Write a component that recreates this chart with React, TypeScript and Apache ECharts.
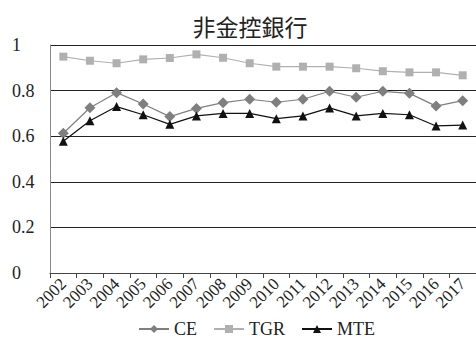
import React, { useEffect, useRef } from "react";
import * as echarts from "echarts";

const years = ["2002","2003","2004","2005","2006","2007","2008","2009","2010","2011","2012","2013","2014","2015","2016","2017"];
const ce = [0.613,0.725,0.791,0.741,0.686,0.722,0.747,0.762,0.749,0.762,0.797,0.771,0.797,0.788,0.732,0.756];
const tgr = [0.949,0.931,0.92,0.937,0.943,0.959,0.944,0.92,0.905,0.905,0.905,0.898,0.885,0.88,0.88,0.867];
const mte = [0.578,0.668,0.73,0.694,0.652,0.689,0.70,0.70,0.677,0.689,0.724,0.689,0.70,0.694,0.645,0.649];

const serif = "Liberation Serif";

export default function App() {
  const ref = useRef<HTMLDivElement>(null);
  useEffect(() => {
    const chart = echarts.init(ref.current!, null, { renderer: "svg" });
    chart.setOption({
      animation: false,
      title: {
        text: "非金控銀行",
        left: 245,
        textAlign: "center",
        top: 9,
        textStyle: { fontFamily: "Noto Sans CJK TC", fontSize: 23, fontWeight: "normal", color: "#222" },
      },
      grid: { left: 50, right: 0, top: 45, bottom: 76, containLabel: false },
      legend: {
        bottom: 6,
        left: 133,
        itemWidth: 30,
        itemHeight: 10,
        itemGap: 16,
        textStyle: { fontFamily: serif, fontSize: 18, color: "#222" },
        data: ["CE", "TGR", "MTE"],
      },
      xAxis: {
        type: "category",
        data: years,
        boundaryGap: true,
        axisLine: { lineStyle: { color: "#444", width: 1 } },
        axisTick: { show: true, length: 5, lineStyle: { color: "#444" } },
        axisLabel: { rotate: 45, fontFamily: serif, fontSize: 17, color: "#222", margin: 8, interval: 0 },
      },
      yAxis: {
        type: "value",
        min: 0,
        max: 1,
        interval: 0.2,
        axisLine: { show: true, lineStyle: { color: "#888" } },
        axisTick: { show: false },
        splitLine: { lineStyle: { color: "#222", width: 1 } },
        axisLabel: {
          fontFamily: serif,
          fontSize: 18,
          color: "#222",
          margin: 38,
          align: "left",
          formatter: (v: number) => (v === 0 ? "0" : v === 1 ? "1" : String(Math.round(v * 10) / 10)),
        },
      },
      series: [
        {
          name: "CE", type: "line", data: ce,
          symbol: "diamond", symbolSize: 11,
          lineStyle: { color: "#7f7f7f", width: 1.2 },
          itemStyle: { color: "#7f7f7f" },
        },
        {
          name: "TGR", type: "line", data: tgr,
          symbol: "rect", symbolSize: 8,
          lineStyle: { color: "#b0b0b0", width: 1.2 },
          itemStyle: { color: "#b0b0b0" },
        },
        {
          name: "MTE", type: "line", data: mte,
          symbol: "triangle", symbolSize: 9,
          lineStyle: { color: "#111", width: 1.2 },
          itemStyle: { color: "#111" },
        },
      ],
    });
    return () => chart.dispose();
  }, []);
  return <div ref={ref} style={{ width: 476, height: 349, position: "absolute", left: 0, top: 0 }} />;
}
